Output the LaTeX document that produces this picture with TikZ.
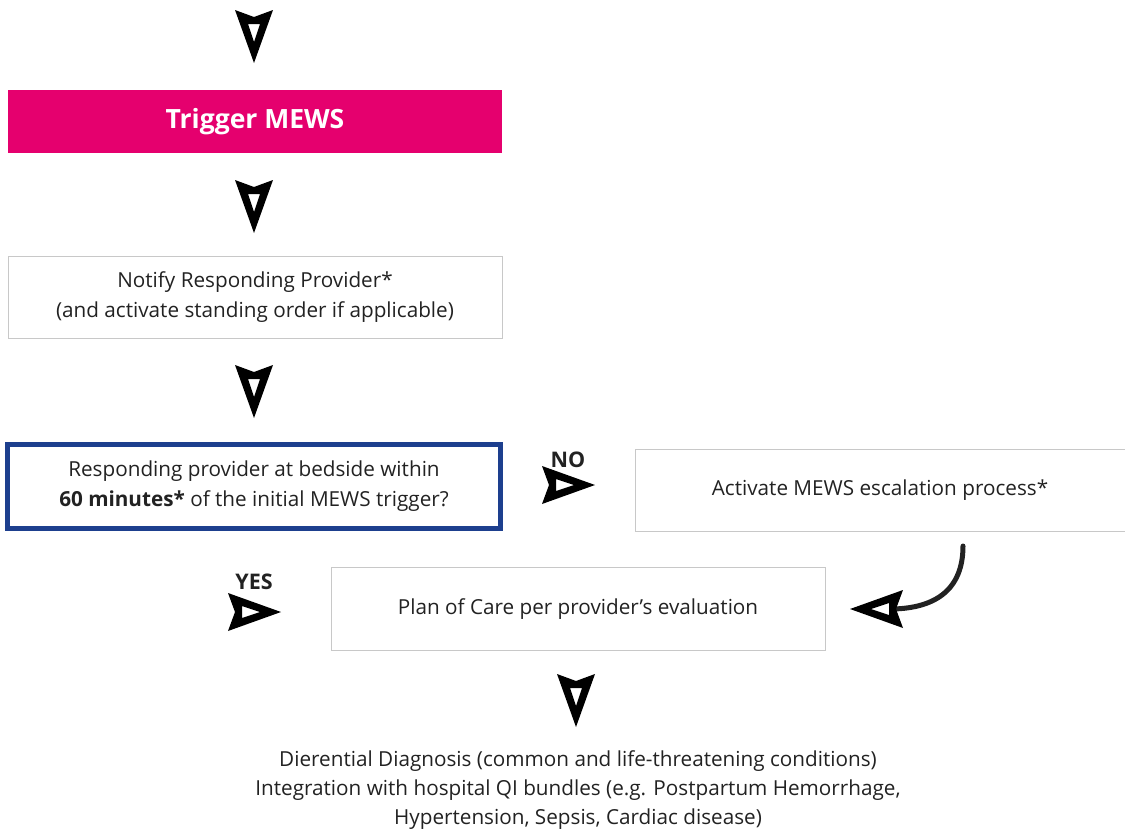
\documentclass[tikz,border=0pt]{standalone}
\usepackage{fontspec}
\setmainfont{Open Sans}
\definecolor{mewspink}{HTML}{E5006E}
\definecolor{mewsblue}{HTML}{1D3F8E}
\definecolor{boxgray}{HTML}{C8C8C8}
\definecolor{txt}{HTML}{222222}
\begin{document}
\begin{tikzpicture}[x=1pt,y=-1pt,
  every node/.style={text=txt,font=\fontsize{20.7}{29.3}\selectfont,align=center},
  plainbox/.style={draw=boxgray,line width=1pt,inner sep=0pt},
  chev/.pic={\fill[black,even odd rule] (-19,0)--(0,7)--(19,0)--(0,53)--cycle (-6,14)--(6,14)--(0,32)--cycle;},
  lbl/.style={font=\bfseries\fontsize{21.5}{24}\selectfont}
]
\useasboundingbox (0,0) rectangle (1125,830);
% boxes
\node[fill=mewspink,minimum width=494pt,minimum height=63pt,inner sep=0pt,text=white,font=\bfseries\fontsize{26.5}{30}\selectfont] (trig) at (255,121.5) {Trigger MEWS};
\node[plainbox,minimum width=494pt,minimum height=82pt] (notify) at (255,297) {Notify Responding Provider*\\(and activate standing order if applicable)};
\node[draw=mewsblue,line width=5pt,minimum width=493pt,minimum height=84pt,inner sep=0pt] (resp) at (254,486) {Responding provider at bedside within\\\textbf{60 minutes*} of the initial MEWS trigger?};
\node[plainbox,minimum width=490pt,minimum height=82pt] (act) at (880,490) {Activate MEWS escalation process*};
\node[plainbox,minimum width=494pt,minimum height=83pt] (plan) at (578,609) {Plan of Care per provider’s evaluation};
\node (diff) at (578,790) {Dierential Diagnosis (common and life-threatening conditions)\\Integration with hospital QI bundles (e.g. Postpartum Hemorrhage,\\Hypertension, Sepsis, Cardiac disease)};
% labels
\node[lbl] (no) at (568,460) {NO};
\node[lbl] (yes) at (254,582) {YES};
% chevrons
\pic at (254,10) {chev};
\pic at (254,180) {chev};
\pic at (254,365) {chev};
\pic at (576,674) {chev};
\pic[rotate=90] at (542,485) {chev};
\pic[rotate=90] at (228,612) {chev};
% curved arrow
\coordinate (cs) at (963,546);
\coordinate (ce) at (893,609);
\draw[line width=5pt,color=txt,line cap=round] (cs) .. controls (963,590) and (935,608) .. (ce);
\pic[rotate=-90] at (903,609) {chev};
\end{tikzpicture}
\end{document}
